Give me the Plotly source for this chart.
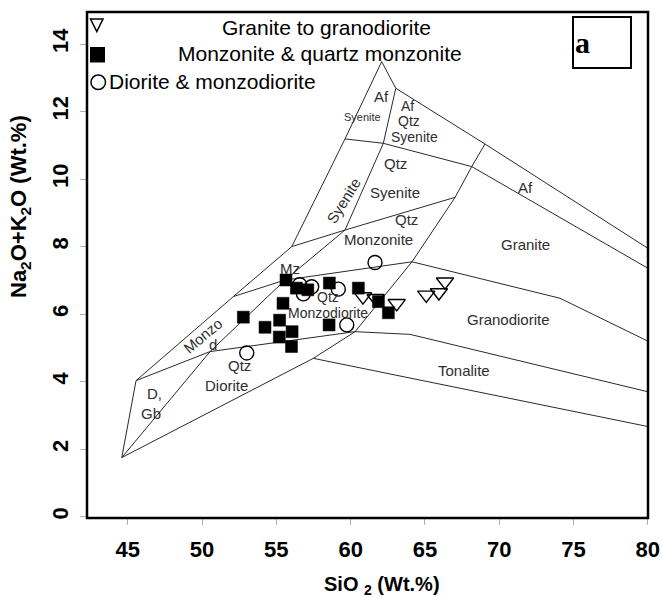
import plotly.graph_objects as go

# ---------------- sample data (SiO2 wt.%, Na2O+K2O wt.%) ----------------
granite_sio2 = [60.83, 61.68, 63.10, 65.09, 65.94, 66.35]
granite_alk = [6.52, 6.47, 6.32, 6.57, 6.64, 6.96]

monzonite_sio2 = [52.78, 55.65, 56.35, 57.12, 55.45, 55.22, 54.24, 56.06,
                  55.20, 56.02, 58.57, 58.55, 60.52, 61.87, 62.54]
monzonite_alk = [5.91, 7.01, 6.77, 6.72, 6.32, 5.82, 5.61, 5.48,
                 5.32, 5.04, 6.92, 5.68, 6.77, 6.37, 6.04]

diorite_sio2 = [53.01, 56.57, 57.38, 56.82, 59.17, 61.64, 59.74]
diorite_alk = [4.85, 6.87, 6.81, 6.60, 6.74, 7.53, 5.68]

# ---------------- classification boundaries ----------------
outer_x = [44.60, 45.56, 52.11, 56.04, 59.62, 62.09, 63.04, 69.04, 80.0]
outer_y = [1.75, 4.03, 6.52, 8.00, 11.19, 13.48, 12.69, 11.04, 7.95]
inner_x = [44.60, 50.54, 55.59, 59.62, 62.20, 63.04]
inner_y = [1.75, 4.89, 7.01, 8.49, 11.06, 12.69]
line55_x = [45.56, 50.54, 60.30, 64.00, 80.0]
line55_y = [4.03, 4.89, 5.48, 5.40, 3.70]
diorite_base_x = [44.60, 57.49, 60.30]
diorite_base_y = [1.75, 4.69, 5.48]
tonalite_base_x = [57.49, 80.0]
tonalite_base_y = [4.69, 2.67]
line7_x = [52.11, 55.59, 64.13, 74.09, 80.0]
line7_y = [6.52, 7.01, 7.55, 6.47, 5.20]
line8_x = [56.04, 59.62, 67.03]
line8_y = [8.00, 8.49, 9.46]
steep_x = [60.30, 64.13, 67.03, 68.15, 69.04]
steep_y = [5.48, 7.55, 9.46, 10.37, 11.04]
line11_x = [59.62, 62.20, 68.15, 80.0]
line11_y = [11.19, 11.06, 10.37, 7.36]

boundaries = [
    (outer_x, outer_y), (inner_x, inner_y), (line55_x, line55_y),
    (diorite_base_x, diorite_base_y), (tonalite_base_x, tonalite_base_y),
    (line7_x, line7_y), (line8_x, line8_y), (steep_x, steep_y),
    (line11_x, line11_y),
]

# ---------------- field labels ----------------
label_text = ["Af", "Syenite", "Af", "Qtz", "Syenite", "Qtz", "Syenite", "Syenite",
              "Qtz", "Monzonite", "Mz", "Af", "Granite", "Granodiorite", "Tonalite",
              "Qtz", "Monzodiorite", "Monzo", "d", "Qtz", "Diorite", "D,", "Gb"]
label_x = [62.09, 60.80, 63.80, 63.90, 64.30, 63.00, 63.00, 59.51,
           63.75, 61.85, 55.90, 71.80, 71.80, 70.62, 67.60,
           58.45, 58.45, 50.05, 50.75, 52.50, 51.62, 46.80, 46.55]
label_y = [12.44, 11.85, 12.17, 11.72, 11.25, 10.47, 9.59, 9.38,
           8.79, 8.20, 7.36, 9.75, 8.05, 5.83, 4.32,
           6.52, 6.03, 5.38, 5.10, 4.48, 3.90, 3.66, 3.07]
label_size = [15, 11, 14, 14, 14, 15, 15, 15,
              15, 15, 15, 15, 15, 15, 15,
              14, 14, 15, 15, 15, 15, 15, 15]
label_angle = [0, 0, 0, 0, 0, 0, 0, -58,
               0, 0, 0, 0, 0, 0, 0,
               0, 0, -40, 0, 0, 0, 0, 0]

x_ticks = [45, 50, 55, 60, 65, 70, 75, 80]
y_ticks = [0, 2, 4, 6, 8, 10, 12, 14]

W, H = 662, 598
L, R, T, B = 87, 14, 12, 80

fig = go.Figure()

for bx, by in boundaries:
    fig.add_trace(go.Scatter(x=bx, y=by, mode="lines",
                             line=dict(color="#2a2a2a", width=1),
                             hoverinfo="skip", showlegend=False))

fig.add_trace(go.Scatter(x=diorite_sio2, y=diorite_alk, mode="markers",
                         name="Diorite & monzodiorite",
                         marker=dict(symbol="circle-open", size=14,
                                     color="black", line=dict(width=1.4, color="black")),
                         showlegend=False))
fig.add_trace(go.Scatter(x=granite_sio2, y=granite_alk, mode="markers",
                         name="Granite to granodiorite",
                         marker=dict(symbol="triangle-down-open", size=15,
                                     color="black", line=dict(width=1.4, color="black")),
                         showlegend=False))
fig.add_trace(go.Scatter(x=monzonite_sio2, y=monzonite_alk, mode="markers",
                         name="Monzonite & quartz monzonite",
                         marker=dict(symbol="square", size=12, color="black",
                                     line=dict(width=0.5, color="black")),
                         showlegend=False))

annotations = []
for t, x, y, s, a in zip(label_text, label_x, label_y, label_size, label_angle):
    annotations.append(dict(x=x, y=y, xref="x", yref="y", text=t, showarrow=False,
                            textangle=a,
                            font=dict(family="Liberation Sans, Arial", size=s, color="#2e2e2e")))

pw, ph = W - L - R, H - T - B


def px(xp):
    return (xp - L) / pw


def py(yp):
    return (H - B - yp) / ph


# legend texts
legend_items = [("Granite to granodiorite", 326, 27),
                ("Monzonite & quartz monzonite", 320, 54),
                ("Diorite & monzodiorite", 212, 82)]
for t, cx, cy in legend_items:
    annotations.append(dict(x=px(cx), y=py(cy), xref="paper", yref="paper", text=t,
                            showarrow=False, xanchor="center", yanchor="middle",
                            font=dict(family="Liberation Sans, Arial", size=21, color="black")))

# panel letter
annotations.append(dict(x=px(582), y=py(42), xref="paper", yref="paper", text="<b>a</b>",
                        showarrow=False, xanchor="center", yanchor="middle",
                        font=dict(family="Liberation Serif, Times New Roman", size=30, color="black")))

# axis titles
annotations.append(dict(x=px(382), y=py(585), xref="paper", yref="paper",
                        text="<b>SiO <sub>2</sub> (Wt.%)</b>", showarrow=False,
                        xanchor="center", yanchor="middle",
                        font=dict(family="Liberation Sans, Arial", size=20, color="black")))
annotations.append(dict(x=px(20), y=py(207), xref="paper", yref="paper",
                        text="<b>Na<sub>2</sub>O+K<sub>2</sub>O (Wt.%)</b>", showarrow=False,
                        textangle=-90, xanchor="center", yanchor="middle",
                        font=dict(family="Liberation Sans, Arial", size=22, color="black")))

shapes = [
    # frame
    dict(type="rect", xref="paper", yref="paper", x0=0, y0=0, x1=1, y1=1,
         line=dict(color="black", width=2.5)),
    # legend keys
    dict(type="path", xref="paper", yref="paper",
         path=f"M {px(90.5)} {py(19)} L {px(103)} {py(19)} L {px(96.8)} {py(31.5)} Z",
         line=dict(color="black", width=1.5)),
    dict(type="rect", xref="paper", yref="paper", x0=px(90), y0=py(47), x1=px(105), y1=py(62.5),
         fillcolor="black", line=dict(color="black", width=0)),
    dict(type="circle", xref="paper", yref="paper", x0=px(91), y0=py(75), x1=px(105.5), y1=py(89.5),
         line=dict(color="black", width=1.5)),
    # panel letter box
    dict(type="rect", xref="paper", yref="paper", x0=px(573), y0=py(17), x1=px(631), y1=py(68),
         line=dict(color="black", width=2)),
]

fig.update_layout(
    width=W, height=H,
    margin=dict(l=L, r=R, t=T, b=B, autoexpand=False),
    plot_bgcolor="white", paper_bgcolor="white",
    showlegend=False,
    annotations=annotations,
    shapes=shapes,
    xaxis=dict(range=[42.26, 80.01], tickvals=x_ticks, ticktext=[str(v) for v in x_ticks],
               showgrid=False, zeroline=False, showline=False, automargin=False,
               ticks="outside", ticklen=6, tickcolor="#b0b0b0", tickwidth=1,
               ticklabelstandoff=6,
               tickfont=dict(family="Liberation Sans, Arial", size=22, color="black", weight="bold")),
    yaxis=dict(range=[-0.04, 14.95], tickvals=y_ticks, ticktext=[str(v) for v in y_ticks],
               showgrid=False, zeroline=False, showline=False, automargin=False,
               ticks="outside", ticklen=6, tickcolor="#b0b0b0", tickwidth=1,
               tickangle=-90, ticklabelstandoff=3,
               tickfont=dict(family="Liberation Sans, Arial", size=22, color="black", weight="bold")),
)

fig.write_html("out.html", config={"displayModeBar": False},
               post_script="document.body.style.margin='0';document.body.style.padding='0';")
